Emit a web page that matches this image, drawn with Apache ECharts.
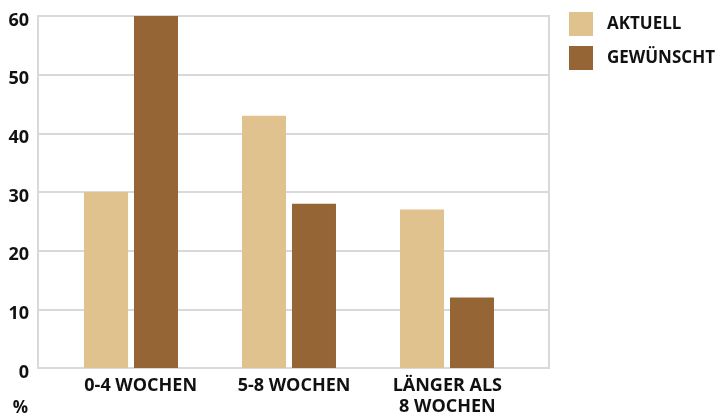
<!DOCTYPE html>
<html>
<head>
<meta charset="utf-8">
<script src="https://cdn.jsdelivr.net/npm/echarts@6/dist/echarts.min.js"></script>
<style>
  html, body { margin: 0; padding: 0; background: #ffffff; }
  #chart { width: 726px; height: 417px; }
</style>
</head>
<body>
<div id="chart"></div>
<script>
// Share of respondents (%) by time span
const categories = ['0-4 WOCHEN', '5-8 WOCHEN', 'LÄNGER ALS\n8 WOCHEN'];
const seriesNames = ['AKTUELL', 'GEWÜNSCHT'];
const aktuell = [30, 43, 27];
const gewuenscht = [60, 28, 12];
const yTicks = { min: 0, max: 60, interval: 10 };

const FONT = '"Open Sans", "Noto Sans", sans-serif';
const GRID_LINE = '#d9d9d9';
const COLORS = ['#dfc28e', '#966536'];

const chart = echarts.init(document.getElementById('chart'), null, { renderer: 'canvas' });

chart.setOption({
  animation: false,
  backgroundColor: '#ffffff',
  color: COLORS,
  legend: {
    orient: 'vertical',
    left: 569,
    top: 12,
    padding: 0,
    itemWidth: 24,
    itemHeight: 24,
    itemGap: 10,
    icon: 'rect',
    data: seriesNames,
    textStyle: {
      fontFamily: FONT,
      fontWeight: 'bold',
      fontSize: 17,
      color: '#111111',
      padding: [2, 0, 0, 9]
    }
  },
  grid: [
    // frame + value scale
    { left: 38, right: 177, top: 16, bottom: 49, show: true, borderColor: GRID_LINE, borderWidth: 2, backgroundColor: 'transparent' },
    // bar groups
    { left: 52, right: 200, top: 16, bottom: 49 },
    // category labels
    { left: 64, right: 202, top: 16, bottom: 49 }
  ],
  xAxis: [
    { gridIndex: 0, type: 'value', show: false, min: 0, max: 1 },
    {
      gridIndex: 1, type: 'category', data: categories,
      axisLine: { show: false }, axisTick: { show: false }, axisLabel: { show: false }
    },
    {
      gridIndex: 2, type: 'category', data: categories,
      axisLine: { show: false }, axisTick: { show: false },
      axisLabel: {
        margin: 8,
        fontFamily: FONT,
        fontWeight: 'bold',
        fontSize: 18,
        lineHeight: 21,
        color: '#111111',
        interval: 0
      }
    }
  ],
  yAxis: [
    {
      gridIndex: 0, type: 'value',
      min: yTicks.min, max: yTicks.max, interval: yTicks.interval,
      name: '%',
      nameLocation: 'start',
      nameGap: 32,
      nameTextStyle: { fontFamily: FONT, fontWeight: 'bold', fontSize: 17, color: '#111111', align: 'right', padding: [0, 10, 0, 0] },
      axisLine: { show: true, lineStyle: { color: GRID_LINE, width: 2 } },
      axisTick: { show: false },
      splitLine: { show: true, lineStyle: { color: GRID_LINE, width: 2 } },
      axisLabel: {
        margin: 9,
        formatter: '{v|{value}}',
        rich: {
          v: {
            fontFamily: FONT,
            fontWeight: 'bold',
            fontSize: 18,
            color: '#111111',
            padding: [9, 0, 0, 0]
          }
        }
      }
    },
    { gridIndex: 1, type: 'value', min: yTicks.min, max: yTicks.max, show: false },
    { gridIndex: 2, type: 'value', min: yTicks.min, max: yTicks.max, show: false }
  ],
  series: [
    {
      name: seriesNames[0], type: 'bar', xAxisIndex: 1, yAxisIndex: 1,
      data: aktuell, barWidth: 44, barGap: '13.6%', itemStyle: { color: COLORS[0] }
    },
    {
      name: seriesNames[1], type: 'bar', xAxisIndex: 1, yAxisIndex: 1,
      data: gewuenscht, barWidth: 44, barGap: '13.6%', itemStyle: { color: COLORS[1] }
    }
  ]
});
</script>
</body>
</html>
